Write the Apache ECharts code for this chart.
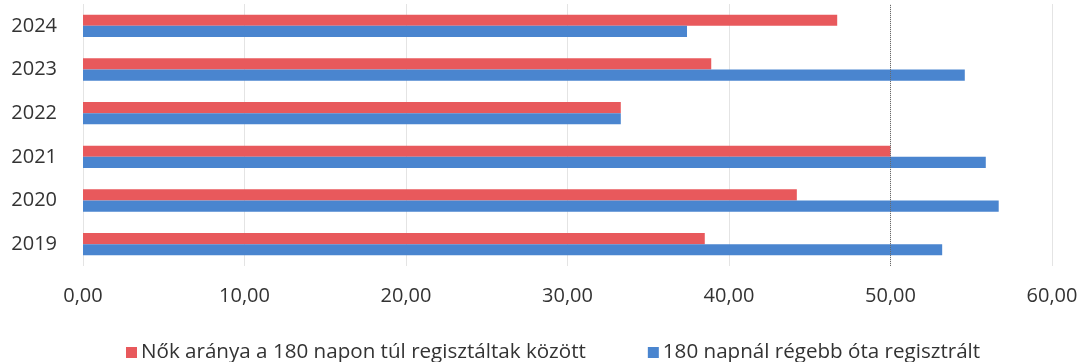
<!DOCTYPE html>
<html>
<head>
<meta charset="utf-8">
<script src="https://cdn.jsdelivr.net/npm/echarts@6/dist/echarts.min.js"></script>
<style>
  html, body { margin: 0; padding: 0; background: #fff; }
  #chart { width: 1084px; height: 362px; }
</style>
</head>
<body>
<div id="chart"></div>
<script>
// Years shown on the category axis (bottom to top)
const years = ['2019', '2020', '2021', '2022', '2023', '2024'];

// Share of women among those registered for more than 180 days
const womenShare = [38.5, 44.2, 50.0, 33.3, 38.9, 46.7];

// Registered for longer than 180 days
const longTerm = [53.2, 56.7, 55.9, 33.3, 54.6, 37.4];

const seriesNames = [
  'Nők aránya a 180 napon túl regisztáltak között',
  '180 napnál régebb óta regisztrált'
];

const xTicks = { min: 0, max: 60, interval: 10 };

const chart = echarts.init(document.getElementById('chart'));
const font = '"Open Sans", "Liberation Sans", Arial, sans-serif';

chart.setOption({
  animation: false,
  textStyle: { fontFamily: font },
  grid: { left: 83, right: 32, top: 4, bottom: 96, containLabel: false },
  legend: {
    data: seriesNames,
    top: 337,
    left: 121,
    itemWidth: 11,
    itemHeight: 11,
    itemGap: 62,
    icon: 'rect',
    textStyle: { fontSize: 20.6, color: '#333', fontFamily: font, padding: [0, 0, 0, -1] }
  },
  xAxis: {
    type: 'value',
    min: xTicks.min,
    max: xTicks.max,
    interval: xTicks.interval,
    axisLine: { show: false },
    axisTick: { show: false },
    axisLabel: {
      fontSize: 20,
      color: '#333',
      margin: 20,
      formatter: v => v.toFixed(2).replace('.', ',')
    },
    splitLine: { show: true, lineStyle: { color: '#e4e4e4', width: 1 } }
  },
  yAxis: {
    type: 'category',
    data: years,
    axisLine: { show: false },
    axisTick: { show: false },
    axisLabel: { fontSize: 20, color: '#333', margin: 26 }
  },
  series: [
    {
      name: seriesNames[0],
      type: 'bar',
      data: womenShare,
      itemStyle: { color: '#E8595C' },
      barGap: '0%',
      barCategoryGap: '49%',
      markLine: {
        silent: true,
        symbol: 'none',
        label: { show: false },
        lineStyle: { color: '#6a6a6a', width: 1, type: 'dotted' },
        data: [{ xAxis: 50 }]
      }
    },
    {
      name: seriesNames[1],
      type: 'bar',
      data: longTerm,
      itemStyle: { color: '#4A85CF' },
      barGap: '0%',
      barCategoryGap: '49%'
    }
  ]
});
</script>
</body>
</html>
